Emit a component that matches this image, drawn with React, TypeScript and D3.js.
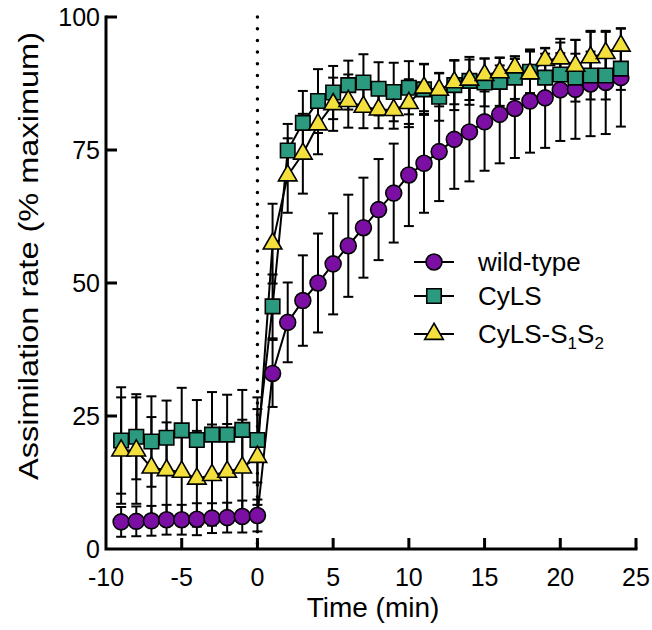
import React from 'react';
import * as d3 from 'd3';

const width = 652;
const height = 630;

// time points (min): 10 dark points, then 24 in the light
const times = [-9, -8, -7, -6, -5, -4, -3, -2, -1, 0,
  1, 2, 3, 4, 5, 6, 7, 8, 9, 10, 11, 12, 13, 14, 15, 16, 17, 18, 19, 20, 21, 22, 23, 24];

const wildType = [5.1, 5.2, 5.3, 5.5, 5.5, 5.6, 5.8, 5.9, 6.1, 6.3,
  33, 42.6, 46.7, 50, 53.6, 57, 60.4, 63.8, 66.9, 70.3, 72.5, 74.7, 77, 78.4, 80.3, 81.7, 82.8, 84.2, 84.8, 86.3, 86.4, 87.4, 87.7, 88.6];
const wildTypeErr = [2.8, 2.8, 2.8, 2.8, 2.8, 3, 2.8, 2.8, 3, 3,
  6.3, 7.5, 8.5, 9.3, 9.5, 9.6, 9.4, 9.5, 9.3, 9.6, 9.3, 9.3, 9.3, 9.3, 9.2, 9.2, 9.3, 9.7, 9.4, 9.6, 9.3, 9.8, 9.7, 9.2];

const cyls = [20.4, 21.1, 20.2, 20.9, 22.3, 20.5, 21.5, 21.5, 22.4, 20.5,
  45.6, 74.9, 80.1, 84.2, 85.8, 87.2, 87.7, 86.5, 85.9, 86.7, 86.4, 85, 87.2, 88, 87.7, 87.8, 88.6, 89.7, 88.6, 89.2, 88.6, 89, 89, 90.3];
const cylsErr = [10, 8, 8.5, 7, 8, 7.5, 8, 7.5, 7.5, 8,
  6, 5, 6, 6, 5, 4.6, 5.3, 5, 5.5, 5, 4.8, 4.5, 4.7, 4.5, 4.5, 4.5, 4, 4, 4.5, 4, 4.5, 4.5, 4.5, 4];

const cylsS1S2 = [18.5, 18.5, 15.3, 14.8, 14.5, 13.2, 13.9, 14.5, 15.3, 17.3,
  57.4, 70.2, 74.3, 79.8, 83.6, 84.2, 83.1, 82.6, 82.5, 83.8, 86.7, 86.3, 87.7, 88.2, 89.1, 89.6, 90.5, 89.4, 91.9, 92.2, 90.8, 92.4, 93.2, 94.6];
const cylsS1S2Err = [10, 10, 9.5, 9, 9, 9, 9.5, 9, 9, 9,
  7.5, 7, 7.5, 5.6, 5, 5, 4, 3.5, 3.5, 4.5, 4.4, 3.1, 4.1, 3.8, 3.1, 2.8, 2.1, 4.1, 2.2, 3, 4.9, 5, 4, 3.3];

const xTicks = [-10, -5, 0, 5, 10, 15, 20, 25];
const yTicks = [0, 25, 50, 75, 100];

const series = [
  { name: 'wild-type', values: wildType, err: wildTypeErr, color: '#7b0fa3', shape: 'circle' },
  { name: 'CyLS', values: cyls, err: cylsErr, color: '#2b9a7f', shape: 'square' },
  { name: 'CyLS-S1S2', values: cylsS1S2, err: cylsS1S2Err, color: '#f3e03c', shape: 'triangle' },
];

const font = '"Liberation Sans", Arial, sans-serif';

const x = d3.scaleLinear().domain([-10, 25]).range([106, 636]);
const y = d3.scaleLinear().domain([0, 100]).range([549, 17]);

const symbolPath = (shape) => {
  if (shape === 'square') return d3.symbol(d3.symbolSquare, 210)();
  if (shape === 'triangle') return d3.symbol(d3.symbolTriangle, 150)();
  return d3.symbol(d3.symbolCircle, 200)();
};

const Marker = ({ shape, color, cx, cy }) => (
  <path d={symbolPath(shape)} transform={`translate(${cx},${cy})`} fill={color} stroke="#000" strokeWidth="1.6" />
);

export default function App() {
  const line = d3.line().x(d => x(d[0])).y(d => y(d[1]));
  const capW = 5;

  return (
    <svg width={width} height={height} style={{ position: 'absolute', left: 0, top: 0, background: '#fff' }}>
      {/* dotted line at light on */}
      <line x1={x(0)} x2={x(0)} y1={y(100)} y2={y(0)} stroke="#000" strokeWidth="3.5"
        strokeLinecap="round" strokeDasharray="0 11.7" />

      {/* error bars and connecting lines */}
      {series.map(s => (
        <g key={s.name + '-bars'} stroke="#000" strokeWidth="2" fill="none">
          {times.map((t, i) => {
            const top = y(s.values[i] + s.err[i]);
            const bot = y(s.values[i] - s.err[i]);
            return (
              <g key={i}>
                <line x1={x(t)} x2={x(t)} y1={top} y2={bot} />
                <line x1={x(t) - capW} x2={x(t) + capW} y1={top} y2={top} />
                <line x1={x(t) - capW} x2={x(t) + capW} y1={bot} y2={bot} />
              </g>
            );
          })}
          <path d={line(times.map((t, i) => [t, s.values[i]]))} />
        </g>
      ))}

      {/* markers */}
      {series.map(s => (
        <g key={s.name + '-pts'}>
          {times.map((t, i) => (
            <Marker key={i} shape={s.shape} color={s.color} cx={x(t)} cy={y(s.values[i])} />
          ))}
        </g>
      ))}

      {/* axes */}
      <g stroke="#000" strokeWidth="3" fill="none">
        <path d={`M${x(-10)},${y(100)} V${y(0)} H${x(25)}`} strokeLinejoin="miter" strokeLinecap="square" />
        {yTicks.filter(v => v > 0).map(v => (
          <line key={v} x1={x(-10)} x2={x(-10) + 11} y1={y(v)} y2={y(v)} />
        ))}
        {xTicks.filter(v => v > -10).map(v => (
          <line key={v} x1={x(v)} x2={x(v)} y1={y(0)} y2={y(0) - 11} />
        ))}
      </g>
      <g fontFamily={font} fontSize="25" fill="#000">
        {yTicks.map(v => (
          <text key={v} x={x(-10) - 6} y={y(v)} dy="0.36em" textAnchor="end">{v}</text>
        ))}
        {xTicks.map(v => (
          <text key={v} x={x(v)} y={586} textAnchor="middle">{v}</text>
        ))}
      </g>
      <text x={373} y={617} textAnchor="middle" fontFamily={font} fontSize="28">Time (min)</text>
      <text transform="translate(38,256) rotate(-90)" textAnchor="middle" fontFamily={font} fontSize="28"
        textLength="448" lengthAdjust="spacingAndGlyphs">Assimilation rate (% maximum)</text>

      {/* legend */}
      <g fontFamily={font} fontSize="26">
        {series.map((s, i) => {
          const ly = [262, 296, 334][i];
          return (
            <g key={s.name}>
              <line x1={414} x2={454} y1={ly} y2={ly} stroke="#000" strokeWidth="2" />
              <Marker shape={s.shape} color={s.color} cx={434} cy={ly} />
              {i < 2 ? (
                <text x={478} y={ly} dy="0.36em">{s.name}</text>
              ) : (
                <text x={478} y={ly} dy="0.36em">
                  CyLS-S<tspan fontSize="17" dy="6">1</tspan><tspan dy="-6">S</tspan><tspan fontSize="17" dy="6">2</tspan>
                </text>
              )}
            </g>
          );
        })}
      </g>
    </svg>
  );
}
